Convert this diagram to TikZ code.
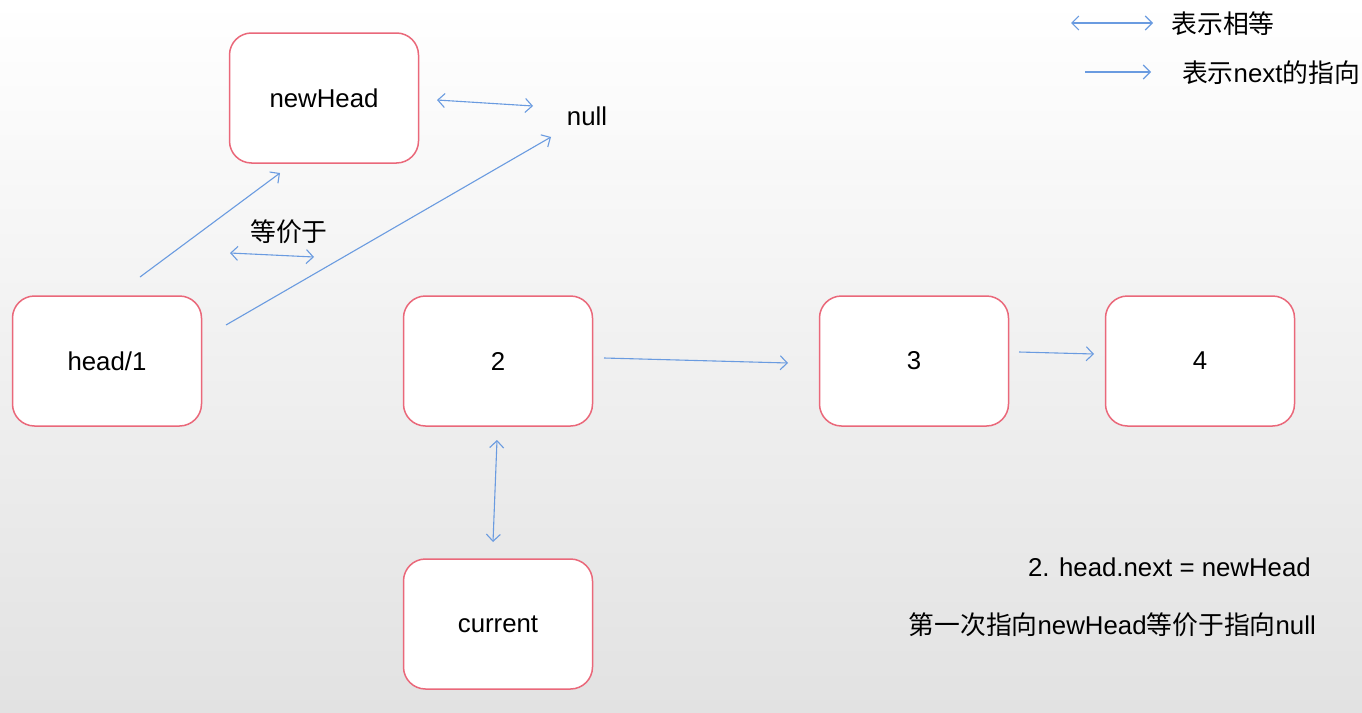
\documentclass[tikz,border=0pt]{standalone}
\usepackage{fontspec}
\setmainfont{Liberation Sans}
\newfontfamily\cjk{Noto Sans CJK SC}
\usetikzlibrary{arrows.meta}
\definecolor{boxred}{RGB}{234,104,122}
\definecolor{arrblue}{RGB}{106,155,224}
\definecolor{bggray}{RGB}{226,226,226}
\begin{document}
\begin{tikzpicture}[x=1pt,y=-1pt,
  box/.style={draw=boxred, line width=1.5pt, fill=white, rounded corners=22pt,
    minimum width=189pt, minimum height=130pt, inner sep=0pt,
    font=\fontsize{25.8}{30}\selectfont},
  lbl/.style={inner sep=0pt, font=\fontsize{25.8}{30}\selectfont},
  tipb/.tip={Straight Barb[length=7pt,width=14pt]},
  nxt/.style={draw=arrblue, line width=1.1pt, -tipb},
  eqa/.style={draw=arrblue, line width=1.1pt, tipb-tipb},
]
\useasboundingbox (0,0) rectangle (1362,712);
\shade[top color=white, bottom color=bggray] (0,0) rectangle (1362,712);

% nodes
\node[box] (newhead) at (324,98) {newHead};
\node[box] (head) at (107,361) {head/1};
\node[box] (n2) at (498,361) {2};
\node[box] (n3) at (914,361) {3};
\node[box] (n4) at (1200,361) {4};
\node[box] (cur) at (498,624) {current};
\node[lbl] (null) at (587,116) {null};
\node[lbl] (eqv) at (289,232) {\cjk 等价于};

% legend
\node[lbl] (leg1) at (1223,24) {\cjk 表示相等};
\node[lbl] (leg2) at (1271,73) {{\cjk 表示}next{\cjk 的指向}};
\coordinate (la1) at (1071,23);
\coordinate (la2) at (1153,23);
\coordinate (lb1) at (1085,72);
\coordinate (lb2) at (1151,72);
\draw[eqa] (la1) -- (la2);
\draw[nxt] (lb1) -- (lb2);

% notes
\node[lbl, anchor=east] (note1) at (1311,567) {2. head.next = newHead};
\node[lbl, anchor=east] (note2) at (1316,625) {{\cjk 第一次指向}newHead{\cjk 等价于指向}null};

% connectors
\coordinate (nh1) at (437,100);
\coordinate (nh2) at (533,106);
\draw[eqa] (nh1) -- (nh2);

\coordinate (hn1) at (140,277);
\coordinate (hn2) at (280,173);
\draw[nxt] (hn1) -- (hn2);

\coordinate (hu1) at (226,325);
\coordinate (hu2) at (551,137);
\draw[nxt] (hu1) -- (hu2);

\coordinate (eq1) at (230,253);
\coordinate (eq2) at (314,257);
\draw[eqa] (eq1) -- (eq2);

\coordinate (t1) at (604,358);
\coordinate (t2) at (788,363);
\draw[nxt] (t1) -- (t2);

\coordinate (f1) at (1019,352);
\coordinate (f2) at (1094,354);
\draw[nxt] (f1) -- (f2);

\coordinate (c1) at (497,440);
\coordinate (c2) at (493,542);
\draw[eqa] (c1) -- (c2);
\end{tikzpicture}
\end{document}
